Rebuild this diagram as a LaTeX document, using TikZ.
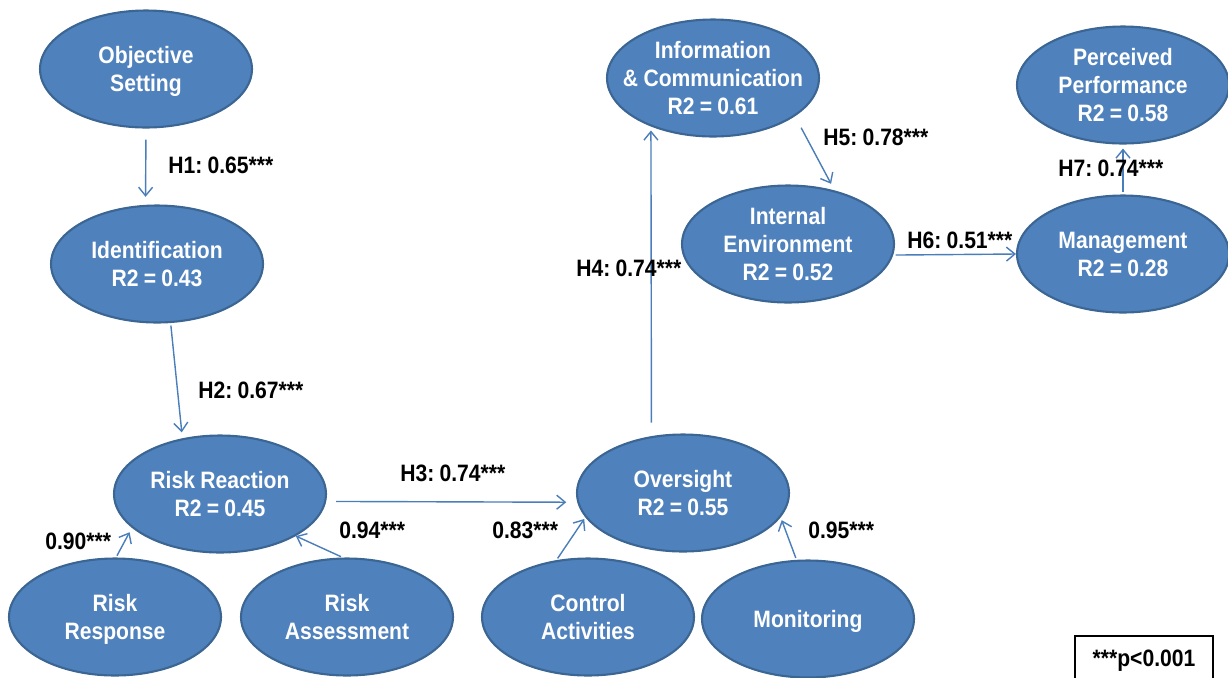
\documentclass[tikz,border=0pt]{standalone}
\usepackage{fontspec}
\setmainfont{Liberation Sans}[FakeStretch=0.89,WordSpace=0.9]
\usetikzlibrary{shapes.geometric,arrows.meta}
\definecolor{ovalblue}{HTML}{4F81BD}
\definecolor{ovalline}{HTML}{3B6592}
\definecolor{linkblue}{HTML}{4A7EBB}
\frenchspacing

\begin{document}
\begin{tikzpicture}[x=0.02cm,y=-0.02cm,
    latent/.style={ellipse,draw=ovalline,line width=1.2pt,fill=ovalblue,text=white,
      minimum width=4.24cm,minimum height=2.34cm,inner sep=-0.4cm,align=center,
      text depth=0pt,font=\fontsize{13.5}{16}\selectfont\bfseries},
    link/.style={draw=linkblue,line width=0.8pt,-{Straight Barb[length=1.7mm,width=2.8mm]}},
    coef/.style={anchor=west,inner sep=0pt,font=\fontsize{13.5}{16}\selectfont\bfseries}]

    \useasboundingbox (0,0) rectangle (1228,677);

    % constructs
    \node[latent] (objset)     at (146,69)  {Objective\\Setting};
    \node[latent] (ident)      at (157,264) {Identification\\R2 = 0.43};
    \node[latent] (riskreact)  at (220,494) {Risk Reaction\\R2 = 0.45};
    \node[latent] (riskresp)   at (115,617) {Risk\\Response};
    \node[latent] (riskassess) at (347,617) {Risk\\Assessment};
    \node[latent] (control)    at (588,617) {Control\\Activities};
    \node[latent] (monitor)    at (808,619) {Monitoring};
    \node[latent] (oversight)  at (683,493) {Oversight\\R2 = 0.55};
    \node[latent] (infocom)    at (713,78)  {Information\\\& Communication\\R2 = 0.61};
    \node[latent] (internal)   at (788,244) {Internal\\Environment\\R2 = 0.52};
    \node[latent] (perceived)  at (1123,85) {Perceived\\Performance\\R2 = 0.58};
    \node[latent] (mgmt)       at (1123,254) {Management\\R2 = 0.28};

    % paths
    \draw[link,shorten <=0.22cm,shorten >=0.16cm] (objset.south) -- (ident.101);
    \draw[link,shorten <=0.05cm,shorten >=0.12cm] (ident.283) -- (riskreact.124);
    \draw[link,shorten <=0.2cm,shorten >=0.22cm] (riskreact.356) -- (oversight.185);
    \draw[link,shorten <=0.04cm,shorten >=0.1cm] (riskresp.89) -- (riskreact.201);
    \draw[link,shorten <=0.04cm] (riskassess.94) -- (riskreact.331);
    \draw[link,shorten <=0.04cm,shorten >=0.04cm] (control.119) -- (oversight.194);
    \draw[link,shorten <=0.04cm,shorten >=0.06cm] (monitor.101) -- (oversight.346);
    \draw[link,shorten <=0.27cm,shorten >=0.08cm] (oversight.119) -- (infocom.218);
    \draw[link,shorten <=0.26cm,shorten >=0.15cm] (infocom.335) -- (internal.49);
    \draw[link,shorten <=0.05cm] (internal.354) -- (mgmt.west);
    \draw[link,shorten <=0.04cm,shorten >=0.08cm] (mgmt.north) -- (perceived.south);

    % coefficients
    \node[coef] (h1) at (168,165) {H1: 0.65***};
    \node[coef] (h2) at (198,390) {H2: 0.67***};
    \node[coef] (h3) at (400,473) {H3: 0.74***};
    \node[coef] (h4) at (576,268) {H4: 0.74***};
    \node[coef] (h5) at (823,137) {H5: 0.78***};
    \node[coef] (h6) at (907,240) {H6: 0.51***};
    \node[coef] (h7) at (1058,168) {H7: 0.74***};
    \node[coef] (lresp)   at (45,541)  {0.90***};
    \node[coef] (lassess) at (339,530) {0.94***};
    \node[coef] (lcontrol) at (492,530) {0.83***};
    \node[coef] (lmonitor) at (808,530) {0.95***};

    \node[draw,line width=0.9pt,inner sep=0pt,minimum width=2.76cm,minimum height=1cm,
      font=\fontsize{13.5}{16}\selectfont\bfseries] (legend) at (1144,661) {***p<0.001};
\end{tikzpicture}
\end{document}
